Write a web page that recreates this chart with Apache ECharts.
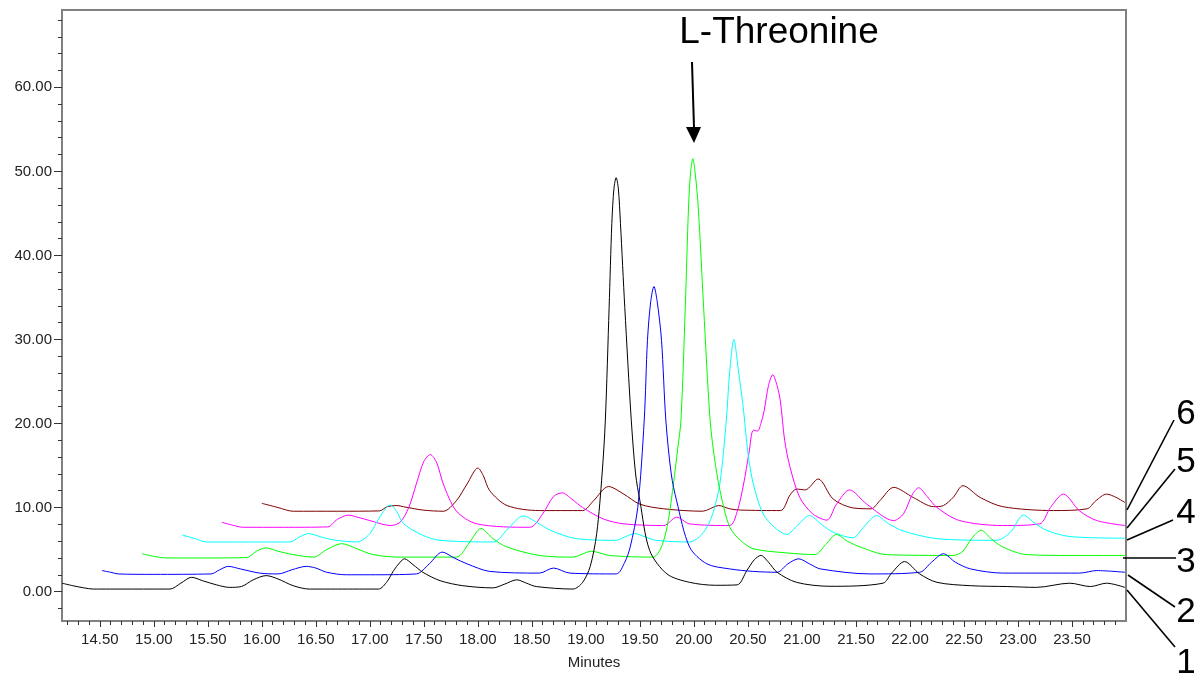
<!DOCTYPE html>
<html><head><meta charset="utf-8">
<script src="https://cdn.jsdelivr.net/npm/echarts@6/dist/echarts.min.js"></script>
<style>html,body{margin:0;padding:0;background:#fff}#c{width:1199px;height:675px}</style>
</head><body><div id="c"></div>
<script>
// ---- tick values ----
const xMajorTicks = [14.5,15.0,15.5,16.0,16.5,17.0,17.5,18.0,18.5,19.0,19.5,20.0,20.5,21.0,21.5,22.0,22.5,23.0,23.5];
const xMinorTicks = [14.2,14.3,14.4,14.5,14.6,14.7,14.8,14.9,15.0,15.1,15.2,15.3,15.4,15.5,15.6,15.7,15.8,15.9,16.0,16.1,16.2,16.3,16.4,16.5,16.6,16.7,16.8,16.9,17.0,17.1,17.2,17.3,17.4,17.5,17.6,17.7,17.8,17.9,18.0,18.1,18.2,18.3,18.4,18.5,18.6,18.7,18.8,18.9,19.0,19.1,19.2,19.3,19.4,19.5,19.6,19.7,19.8,19.9,20.0,20.1,20.2,20.3,20.4,20.5,20.6,20.7,20.8,20.9,21.0,21.1,21.2,21.3,21.4,21.5,21.6,21.7,21.8,21.9,22.0,22.1,22.2,22.3,22.4,22.5,22.6,22.7,22.8,22.9,23.0,23.1,23.2,23.3,23.4,23.5,23.6,23.7,23.8,23.9];
const yMajorTicks = [0,10,20,30,40,50,60];
const yMinorTicks = [-2,0,2,4,6,8,10,12,14,16,18,20,22,24,26,28,30,32,34,36,38,40,42,44,46,48,50,52,54,56,58,60,62,64,66,68];

// ---- traces [minutes, fluorescence] ----
const trace1 = [[14.15,1.0],[14.25,0.7],[14.35,0.45],[14.44,0.3],[14.6,0.3],[15.0,0.3],[15.15,0.3],[15.25,1.0],[15.35,1.7],[15.45,1.3],[15.58,0.8],[15.70,0.5],[15.81,0.6],[15.92,1.4],[16.04,1.9],[16.15,1.5],[16.29,0.7],[16.44,0.3],[16.7,0.3],[17.08,0.3],[17.16,1.2],[17.22,2.5],[17.28,3.5],[17.32,3.9],[17.40,3.2],[17.49,2.3],[17.65,1.3],[17.86,0.7],[18.14,0.44],[18.25,0.9],[18.36,1.4],[18.45,1.0],[18.54,0.6],[18.88,0.3],[18.97,1.1],[19.04,3.0],[19.10,6.9],[19.15,14],[19.18,20.4],[19.215,33.8],[19.24,43.8],[19.26,48],[19.28,49.25],[19.30,48],[19.32,43.8],[19.36,33.8],[19.42,20.4],[19.46,14],[19.5,10.8],[19.59,4.9],[19.75,2.1],[19.96,1.1],[20.2,0.75],[20.40,0.8],[20.49,2.5],[20.56,3.8],[20.62,4.3],[20.69,3.5],[20.77,2.3],[20.95,1.1],[21.26,0.63],[21.75,1.0],[21.83,2.2],[21.95,3.57],[22.09,2.1],[22.25,1.1],[22.56,0.7],[22.9,0.6],[23.17,0.5],[23.48,1.0],[23.67,0.6],[23.82,1.0],[23.99,0.5]];
const trace2 = [[14.52,2.5],[14.60,2.3],[14.67,2.1],[15.0,2.05],[15.53,2.1],[15.61,2.6],[15.69,3.0],[15.80,2.7],[15.98,2.2],[16.15,2.1],[16.28,2.6],[16.41,3.0],[16.50,2.8],[16.60,2.3],[16.78,2.0],[17.0,2.0],[17.43,2.1],[17.55,3.3],[17.67,4.7],[17.78,4.0],[17.90,3.3],[18.11,2.4],[18.57,2.2],[18.70,2.8],[18.85,2.2],[19.28,2.1],[19.36,3.5],[19.41,5.3],[19.48,10],[19.54,20.4],[19.57,29.9],[19.60,34.5],[19.63,36.3],[19.66,34.5],[19.70,29.9],[19.74,20.4],[19.79,14],[19.84,10.8],[19.96,5.3],[20.12,3.3],[20.33,2.7],[20.55,2.4],[20.77,2.3],[20.87,3.3],[20.97,3.9],[21.07,3.3],[21.17,2.7],[21.63,2.1],[22.09,2.3],[22.20,3.5],[22.31,4.5],[22.42,3.5],[22.56,2.7],[22.86,2.2],[23.57,2.2],[23.73,2.5],[23.99,2.3]];
const trace3 = [[14.89,4.5],[15.0,4.2],[15.12,4.0],[15.5,4.0],[15.86,4.05],[15.95,4.8],[16.04,5.2],[16.15,4.8],[16.29,4.4],[16.48,4.1],[16.60,5.0],[16.74,5.7],[16.88,5.1],[17.03,4.4],[17.28,4.1],[17.80,4.1],[17.92,5.8],[18.03,7.5],[18.14,6.3],[18.27,5.3],[18.57,4.3],[18.88,4.1],[19.05,4.8],[19.22,4.3],[19.62,4.1],[19.68,4.8],[19.73,6.5],[19.77,9.0],[19.81,12.8],[19.85,17],[19.88,20.4],[19.92,33.8],[19.95,45.75],[19.97,50],[19.99,51.5],[20.01,50],[20.04,45.75],[20.09,33.8],[20.15,20.4],[20.20,15],[20.25,11.5],[20.33,7.7],[20.43,6.1],[20.55,5.1],[20.86,4.6],[21.12,4.4],[21.22,5.6],[21.32,6.8],[21.42,6.0],[21.54,5.3],[21.78,4.4],[22.40,4.3],[22.49,4.8],[22.57,6.3],[22.66,7.3],[22.75,6.3],[22.86,5.3],[23.08,4.4],[23.48,4.3],[23.99,4.3]];
const trace4 = [[15.26,6.75],[15.38,6.3],[15.49,5.9],[16.0,5.9],[16.26,5.9],[16.35,6.5],[16.43,6.9],[16.55,6.5],[16.66,6.15],[16.88,5.9],[17.0,6.9],[17.09,8.85],[17.19,10.3],[17.25,9.5],[17.31,8.1],[17.49,6.7],[17.65,6.1],[18.14,5.9],[18.28,7.5],[18.42,9.0],[18.55,8.2],[18.67,7.3],[18.91,6.3],[19.28,6.1],[19.36,6.5],[19.45,6.9],[19.55,6.5],[19.65,6.1],[19.96,5.9],[20.05,6.5],[20.12,7.65],[20.18,9.5],[20.24,12.8],[20.30,20.4],[20.33,26],[20.37,30.0],[20.41,26.5],[20.46,21.5],[20.50,16.5],[20.55,12.8],[20.64,9.25],[20.75,7.6],[20.86,6.8],[20.96,7.9],[21.07,9.05],[21.18,8.0],[21.29,7.06],[21.47,6.4],[21.58,7.8],[21.69,9.05],[21.80,8.1],[21.94,7.2],[22.25,6.3],[22.80,6.1],[22.93,7.06],[23.05,9.1],[23.16,8.1],[23.27,7.26],[23.48,6.55],[23.99,6.35]];
const trace5 = [[15.63,8.25],[15.73,7.9],[15.83,7.65],[16.2,7.65],[16.61,7.7],[16.70,8.6],[16.80,9.1],[16.90,8.8],[17.0,8.45],[17.19,7.86],[17.28,8.25],[17.36,10],[17.43,12.8],[17.50,15.5],[17.56,16.3],[17.62,15.3],[17.68,12.8],[17.80,9.6],[17.99,8.06],[18.48,7.65],[18.60,9.25],[18.70,11.3],[18.78,11.75],[18.87,11.0],[18.97,10.0],[19.16,8.65],[19.35,8.06],[19.72,7.86],[19.84,8.85],[19.96,8.06],[20.33,7.86],[20.40,9.5],[20.46,12.8],[20.51,16.5],[20.55,19.2],[20.59,19.1],[20.62,20.0],[20.65,21.5],[20.69,24.5],[20.73,25.8],[20.77,24.5],[20.80,22.7],[20.84,18],[20.89,14.8],[20.98,11.2],[21.10,9.25],[21.23,8.5],[21.32,10.4],[21.44,12.1],[21.60,10.4],[21.85,8.45],[21.94,9.25],[22.02,11.5],[22.08,12.35],[22.16,11.3],[22.25,10.0],[22.46,8.45],[22.86,7.86],[23.20,8.06],[23.30,10.0],[23.42,11.6],[23.57,9.6],[23.73,8.45],[23.99,7.86]];
const trace6 = [[16.0,10.5],[16.15,10.0],[16.29,9.56],[16.7,9.56],[17.09,9.6],[17.16,10.1],[17.25,10.24],[17.31,10.1],[17.49,9.7],[17.68,9.56],[17.80,10.8],[17.90,12.8],[18.0,14.7],[18.05,13.8],[18.11,12.0],[18.27,10.24],[18.57,9.64],[18.97,9.64],[19.07,10.8],[19.21,12.5],[19.35,11.6],[19.50,10.4],[19.72,9.85],[20.08,9.56],[20.23,10.24],[20.33,9.85],[20.43,9.7],[20.80,9.64],[20.89,11.5],[20.95,12.2],[21.03,12.1],[21.15,13.4],[21.29,11.0],[21.47,9.96],[21.64,9.85],[21.72,10.8],[21.85,12.4],[22.03,11.2],[22.22,10.1],[22.31,10.24],[22.40,11.2],[22.49,12.6],[22.65,11.2],[22.86,10.1],[23.33,9.64],[23.64,9.85],[23.72,10.8],[23.82,11.6],[23.99,10.6]];

const traceNames = ['1','2','3','4','5','6'];
const traceColors = ['#000000','#0000ff','#00ff00','#00ffff','#ff00ff','#800000'];
const traces = [trace1,trace2,trace3,trace4,trace5,trace6];

const chart = echarts.init(document.getElementById('c'), null, {renderer:'canvas'});
const labelFont = {fontFamily:'"Liberation Sans Narrow","Arial Narrow",sans-serif', fontSize:15, color:'#222'};
const axisBase = {type:'value', min:14.15, max:24.0, splitLine:{show:false}, axisLine:{show:false, onZero:false}};
const yBase = {type:'value', min:-3.5, max:69.2, splitLine:{show:false}, axisLine:{show:false, onZero:false}};

chart.setOption({
  animation:false,
  backgroundColor:'#fff',
  grid:{left:62, right:73, top:10, bottom:54, show:true, borderColor:'#808080', borderWidth:2, backgroundColor:'transparent', containLabel:false, outerBoundsMode:'none'},
  xAxis:[
    Object.assign({}, axisBase, {
      position:'bottom',
      name:'Minutes', nameLocation:'middle', nameGap:34,
      nameTextStyle:{fontFamily:'"Liberation Sans Narrow","Arial Narrow",sans-serif', fontSize:15, color:'#222'},
      axisTick:{show:true, inside:false, length:6, lineStyle:{color:'#333', width:1}, customValues:xMajorTicks},
      axisLabel:Object.assign({show:true, margin:11, customValues:xMajorTicks, formatter:v=>v.toFixed(2)}, labelFont)
    }),
    Object.assign({}, axisBase, {
      position:'bottom',
      axisTick:{show:true, inside:false, length:4, lineStyle:{color:'#333', width:1}, customValues:xMinorTicks},
      axisLabel:{show:false}
    })
  ],
  yAxis:[
    Object.assign({}, yBase, {
      position:'left',
      name:'Fluorescence', nameLocation:'middle', nameGap:40,
      nameTextStyle:{fontFamily:'"Liberation Sans",Arial,sans-serif', fontSize:17, color:'#222'},
      axisTick:{show:true, inside:false, length:8, lineStyle:{color:'#333', width:1}, customValues:yMajorTicks},
      axisLabel:Object.assign({show:true, margin:10, customValues:yMajorTicks, formatter:v=>v.toFixed(2)}, labelFont)
    }),
    Object.assign({}, yBase, {
      position:'left',
      axisTick:{show:true, inside:false, length:4, lineStyle:{color:'#333', width:1}, customValues:yMinorTicks},
      axisLabel:{show:false}
    })
  ],
  series: traces.map((d,i)=>({
    name:traceNames[i], type:'line', data:d, xAxisIndex:0, yAxisIndex:0,
    showSymbol:false, symbol:'none', smooth:0.3,
    lineStyle:{color:traceColors[i], width:1}, z:10-i
  })),
  graphic:[
    {type:'text', x:779, y:33, style:{text:'L-Threonine', font:'37px "Liberation Sans", Arial, sans-serif', fill:'#000', align:'center', verticalAlign:'middle'}},
    {type:'line', shape:{x1:692, y1:62, x2:694, y2:128}, style:{stroke:'#000', lineWidth:2}},
    {type:'polygon', shape:{points:[[686,127],[701,127],[694,143]]}, style:{fill:'#000'}},
    {type:'line', shape:{x1:1127,y1:510,x2:1174,y2:420}, style:{stroke:'#000', lineWidth:1.6}},
    {type:'line', shape:{x1:1127,y1:528,x2:1175,y2:469}, style:{stroke:'#000', lineWidth:1.6}},
    {type:'line', shape:{x1:1127,y1:540,x2:1173,y2:520}, style:{stroke:'#000', lineWidth:1.6}},
    {type:'line', shape:{x1:1123,y1:558,x2:1176,y2:558}, style:{stroke:'#000', lineWidth:1.6}},
    {type:'line', shape:{x1:1128,y1:575,x2:1175,y2:607}, style:{stroke:'#000', lineWidth:1.6}},
    {type:'line', shape:{x1:1127,y1:590,x2:1175,y2:647}, style:{stroke:'#000', lineWidth:1.6}},
    {type:'text', x:1186, y:414, style:{text:'6', font:'35px "Liberation Sans", Arial, sans-serif', fill:'#000', align:'center', verticalAlign:'middle'}},
    {type:'text', x:1186, y:462, style:{text:'5', font:'35px "Liberation Sans", Arial, sans-serif', fill:'#000', align:'center', verticalAlign:'middle'}},
    {type:'text', x:1186, y:513, style:{text:'4', font:'35px "Liberation Sans", Arial, sans-serif', fill:'#000', align:'center', verticalAlign:'middle'}},
    {type:'text', x:1186, y:562, style:{text:'3', font:'35px "Liberation Sans", Arial, sans-serif', fill:'#000', align:'center', verticalAlign:'middle'}},
    {type:'text', x:1186, y:612, style:{text:'2', font:'35px "Liberation Sans", Arial, sans-serif', fill:'#000', align:'center', verticalAlign:'middle'}},
    {type:'text', x:1186, y:663, style:{text:'1', font:'35px "Liberation Sans", Arial, sans-serif', fill:'#000', align:'center', verticalAlign:'middle'}}
  ]
});
</script></body></html>
